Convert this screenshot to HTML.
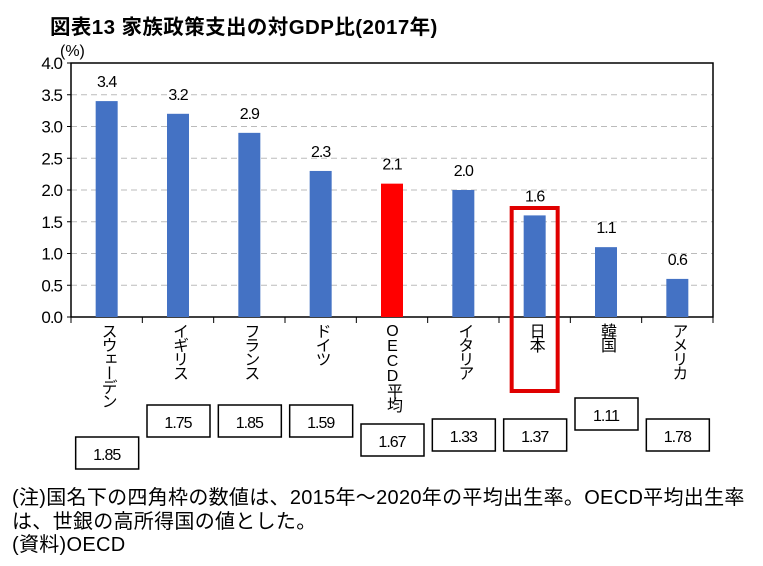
<!DOCTYPE html>
<html><head><meta charset="utf-8"><style>
body{margin:0;background:#fff;width:763px;height:566px;overflow:hidden;font-family:"Liberation Sans","Noto Sans CJK JP",sans-serif;}
svg{position:absolute;left:0;top:0}
.vl{position:absolute;writing-mode:vertical-rl;text-orientation:upright;font-size:16px;line-height:20px;color:#000;letter-spacing:-2px}
.note{position:absolute;left:12px;font-size:20px;color:#000;letter-spacing:0.3px;white-space:nowrap}
</style></head><body>
<svg id="chart" width="763" height="566"></svg>
<div class="note" style="top:481px">(注)国名下の四角枠の数値は、2015年～2020年の平均出生率。OECD平均出生率</div>
<div class="note" style="top:505px">は、世銀の高所得国の値とした。</div>
<div class="note" style="top:528px">(資料)OECD</div>
<script>
const categories=["スウェーデン","イギリス","フランス","ドイツ","OECD平均","イタリア","日本","韓国","アメリカ"];
const values=[3.4,3.2,2.9,2.3,2.1,2.0,1.6,1.1,0.6];
const valueLabels=["3.4","3.2","2.9","2.3","2.1","2.0","1.6","1.1","0.6"];
const fertility=["1.85","1.75","1.85","1.59","1.67","1.33","1.37","1.11","1.78"];
const yTicks=[0,0.5,1,1.5,2,2.5,3,3.5,4];
const boxTops=[437,405,405,405,424,419,419,398,419];
const ns="http://www.w3.org/2000/svg";
const svg=document.getElementById('chart');
const X0=71,X1=713,Y0=317,Y1=63;
const bw=(X1-X0)/categories.length;
const y=v=>Y0-(v/4)*(Y0-Y1);
const xc=i=>X0+bw*(i+0.5);
function el(t,a,p){const e=document.createElementNS(ns,t);for(const k in a)e.setAttribute(k,a[k]);(p||svg).appendChild(e);return e;}
let t=el('text',{x:50,y:34,'font-size':20.5,'font-weight':'bold','letter-spacing':'0.4'});t.textContent="図表13  家族政策支出の対GDP比(2017年)";


t=el('text',{x:60,y:56,'font-size':16});t.textContent="(%)";


yTicks.forEach(v=>{
 if(v>0&&v<4){const g=el('line',{x1:X0,x2:X1,y1:y(v),y2:y(v),stroke:'#bbb','stroke-dasharray':'6,4'});
 
 }
 const l=el('text',{x:62,y:y(v)+6,'font-size':17,'text-anchor':'end','letter-spacing':'-1'});l.textContent=v.toFixed(1);
 
 
 el('line',{x1:X0-4,x2:X0,y1:y(v),y2:y(v),stroke:'#000'});
});
const fr=el('rect',{x:X0,y:Y1,width:X1-X0,height:Y0-Y1,fill:'none',stroke:'#000','stroke-width':1.5});


values.forEach((v,i)=>{
 const r=el('rect',{x:xc(i)-11,y:y(v),width:22,height:Y0-y(v),fill:i===4?'#ff0000':'#4472c4'});
 
 
 const l=el('text',{x:xc(i),y:y(v)-14,'font-size':16,'text-anchor':'middle','letter-spacing':'-1'});l.textContent=valueLabels[i];
 
 
 el('line',{x1:X0+bw*i,x2:X0+bw*i,y1:Y0,y2:Y0+6,stroke:'#000'});
 const b=el('rect',{x:xc(i)-31,y:boxTops[i],width:63,height:32,fill:'#fff',stroke:'#000','stroke-width':1.5});
 
 
 const bt=el('text',{x:xc(i),y:boxTops[i]+23,'font-size':16,'text-anchor':'middle','letter-spacing':'-1'});bt.textContent=fertility[i];
 
 
 const d=document.createElement('div');d.className='vl';d.textContent=categories[i];
 d.style.left=(xc(i)-10)+'px';d.style.top='323px';
 
 
 document.body.appendChild(d);
});
el('line',{x1:X1,x2:X1,y1:Y0,y2:Y0+6,stroke:'#000'});
const hl=el('rect',{x:xc(6)-23,y:208,width:46,height:183,fill:'none',stroke:'#e00000','stroke-width':4});


</script>
</body></html>
